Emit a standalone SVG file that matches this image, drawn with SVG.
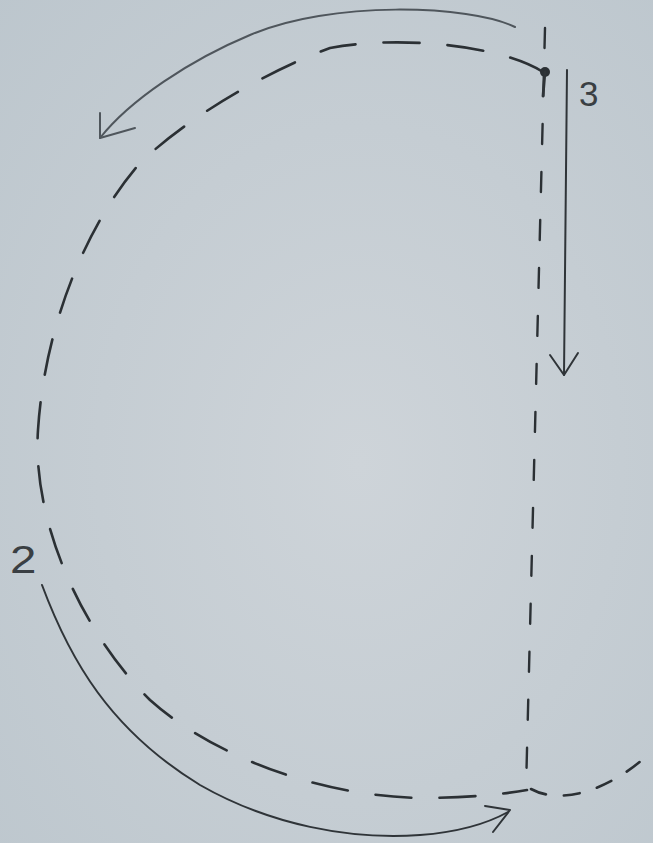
<svg xmlns="http://www.w3.org/2000/svg" width="653" height="843" viewBox="0 0 653 843">
  <defs>
    <radialGradient id="bg" cx="0.55" cy="0.55" r="0.8">
      <stop offset="0" stop-color="#ced4d9"/>
      <stop offset="1" stop-color="#bcc6cd"/>
    </radialGradient>
  </defs>
  <style>
    .dash { fill: none; stroke: #2b3034; stroke-width: 2.6; stroke-linecap: round; stroke-dasharray: 36 28; }
    .vdash { fill: none; stroke: #2b3034; stroke-width: 2.4; stroke-linecap: round; stroke-dasharray: 20 28; }
    .solid { fill: none; stroke: #2f3438; stroke-width: 2; stroke-linecap: round; stroke-linejoin: round; }
    .light { stroke: #4f565c; }
    .lbl { font-family: "Liberation Sans", Arial, sans-serif; fill: #3a3f43; }
  </style>
  <rect width="653" height="843" fill="url(#bg)"/>

  <g id="connectors">
    <!-- dashed D curve -->
    <path class="dash" d="M543,72 C500,45 400,35 330,48 C270,70 190,115 140,163 C90,220 45,320 38,430 C32,520 80,630 150,700 C200,745 300,795 420,798 C460,798 500,795 527,790"/>
    <!-- dashed continuation to the right -->
    <path class="dash" d="M531,789 C560,805 610,792 653,750" style="stroke-dasharray: 16 18"/>
    <!-- vertical dashed line -->
    <path class="vdash" d="M545,28 L526,790"/>
    <!-- top solid arc arrow -->
    <path class="solid light" d="M515,27 C470,5 330,0 250,35 C190,60 130,100 100,138"/>
    <path class="solid light" d="M100,113 L100,138 L135,128"/>
    <!-- downward arrow -->
    <path class="solid" d="M567,70 L564,375"/>
    <path class="solid" d="M550,355 L564,375 L578,353"/>
    <!-- bottom solid arc arrow -->
    <path class="solid" d="M42,585 C70,660 110,730 200,785 C270,825 350,840 420,835 C460,832 490,822 508,812"/>
    <path class="solid" d="M485,806 L510,810 L493,832"/>
  </g>

  <g id="point-top">
    <circle cx="545" cy="72" r="5" fill="#2b3034"/>
    <path class="solid" d="M545,72 L543,96" style="stroke-width:2.8"/>
  </g>

  <g id="label-3">
    <text class="lbl" x="579" y="106" font-size="35">3</text>
  </g>

  <g id="label-2">
    <text class="lbl" x="10" y="573" font-size="38" transform="translate(10 573) scale(1.25 1) translate(-10 -573)">2</text>
  </g>
</svg>
